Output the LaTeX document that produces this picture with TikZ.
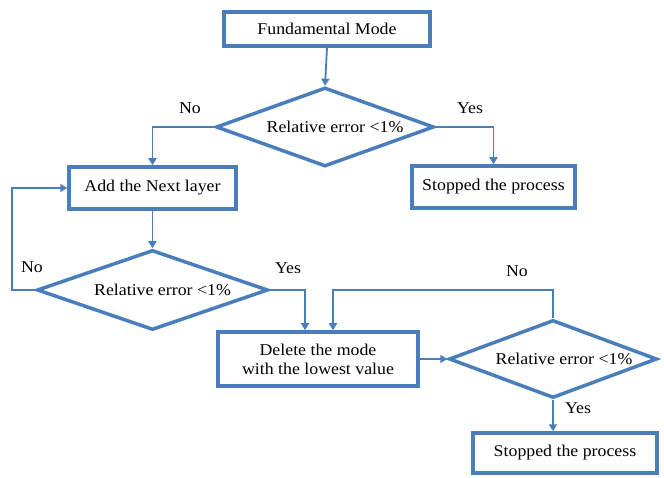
\documentclass[tikz,border=0pt]{standalone}
\usepackage{fontspec}
\setmainfont{Liberation Serif}[FakeStretch=1.08]
\usetikzlibrary{shapes.geometric,arrows.meta,calc}
\definecolor{flowblue}{HTML}{4A7EBB}

\begin{document}
\begin{tikzpicture}[x=1pt, y=-1pt,
  every node/.style={font=\fontsize{16.5}{19}\selectfont},
  box/.style={draw=flowblue, line width=3.5pt, fill=white, inner sep=2pt, align=center},
  decision/.style={diamond, draw=flowblue, line width=3.5pt, fill=white, inner sep=0pt},
  conn/.style={draw=flowblue, line width=1.8pt},
  arr/.style={conn, -{Triangle[width=8pt,length=7pt]}}]
  \useasboundingbox (0,0) rectangle (664,478);

  %--- Kaesten und Verzweigungen
  \node[box, minimum width=206pt, minimum height=34pt] (fund) at (327,29) {Fundamental Mode};
  \node[decision, aspect=2.76, minimum width=218pt, minimum height=79pt] (dec1) at (325,127)
    {\hspace*{20pt}Relative error <1\%};
  \node[box, minimum width=167pt, minimum height=42pt] (add) at (152.5,188) {Add the Next layer};
  \node[box, minimum width=163pt, minimum height=42pt] (stop1) at (493.5,187) {Stopped the process};
  \node[decision, aspect=2.89, minimum width=231pt, minimum height=80pt] (dec2) at (152.5,290)
    {\hspace*{20pt}Relative error <1\%};
  \node[box, minimum width=200pt, minimum height=54pt] (del) at (318,359)
    {Delete the mode\\with the lowest value};
  \node[decision, aspect=2.67, minimum width=208pt, minimum height=78pt] (dec3) at (553,359)
    {\hspace*{22pt}Relative error <1\%};
  \node[box, minimum width=184pt, minimum height=40pt] (stop2) at (565,453) {Stopped the process};

  %--- Verbindungen
  \draw[arr] (fund.south) -- (dec1.north);
  \draw[arr] (dec1.west) -| (add.north);
  \draw[arr] (dec1.east) -| (stop1.north);
  \draw[arr] (add.south) -- (dec2.north);
  \draw[arr] (dec2.west) -- ++(-23,0) |- (add.west);
  \draw[arr] (dec2.east) -| ($(del.north)+(-13,0)$);
  \draw[arr] (del.east) -- (dec3.west);
  \draw[arr] (dec3.north) -- ++(0,-28) -| ($(del.north)+(15,0)$);
  \draw[arr] (dec3.south) -- (dec3.south |- stop2.north);

  %--- Beschriftungen
  \node (no1)  at (190,108) {No};
  \node (yes1) at (470,108) {Yes};
  \node (no2)  at (32,267)  {No};
  \node (yes2) at (288,268) {Yes};
  \node (no3)  at (517,271) {No};
  \node (yes3) at (578,408) {Yes};
\end{tikzpicture}
\end{document}
